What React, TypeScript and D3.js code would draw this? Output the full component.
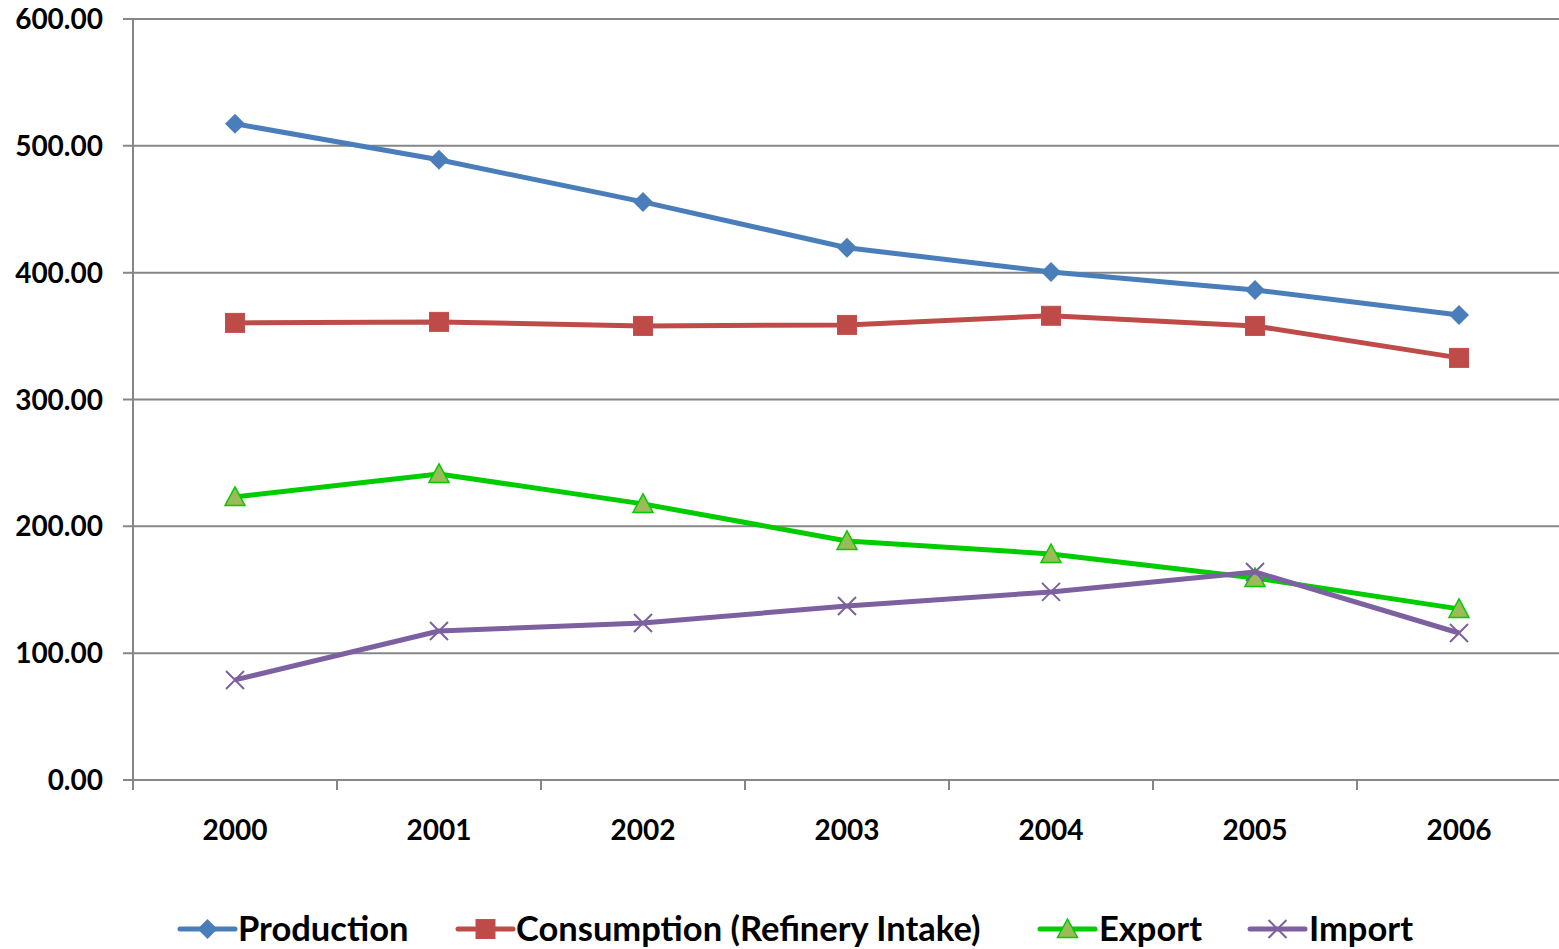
import React from "react";
import * as d3 from "d3";

const years = ["2000", "2001", "2002", "2003", "2004", "2005", "2006"];
const production = [517.4, 489.0, 455.8, 419.6, 400.6, 386.4, 366.7];
const consumption = [360.4, 361.2, 358.0, 358.8, 366.0, 358.0, 332.8];
const exportVals = [223.2, 241.3, 217.7, 188.5, 178.2, 159.3, 134.9];
const importVals = [78.9, 117.5, 123.8, 137.2, 148.3, 164.0, 115.9];
const yTicks = [0, 100, 200, 300, 400, 500, 600];

type Series = { name: string; values: number[]; color: string; marker: string; fill: string; stroke: string };

const series: Series[] = [
  { name: "Production", values: production, color: "#4a7ebb", marker: "diamond", fill: "#4a7ebb", stroke: "#4a7ebb" },
  { name: "Consumption (Refinery Intake)", values: consumption, color: "#be4b48", marker: "square", fill: "#be4b48", stroke: "#be4b48" },
  { name: "Export", values: exportVals, color: "#00cc00", marker: "triangle", fill: "#9bbb59", stroke: "#00cc00" },
  { name: "Import", values: importVals, color: "#7d60a0", marker: "x", fill: "none", stroke: "#7d60a0" },
];

const W = 1559, H = 949;
const left = 133, right = 1561, top = 19, bottom = 780;
const font = "Lato, 'Open Sans', sans-serif";

function Marker({ type, x, y, s }: { type: string; x: number; y: number; s: Series }) {
  if (type === "diamond") {
    const r = 10;
    return <path d={`M${x},${y - r}L${x + r},${y}L${x},${y + r}L${x - r},${y}Z`} fill={s.fill} />;
  }
  if (type === "square") {
    const r = 9.5;
    return <rect x={x - r} y={y - r} width={2 * r} height={2 * r} fill={s.fill} stroke="#c0504d" strokeWidth={1} />;
  }
  if (type === "triangle") {
    const r = 10;
    return <path d={`M${x},${y - r}L${x + r},${y + r * 0.85}L${x - r},${y + r * 0.85}Z`} fill={s.fill} stroke={s.stroke} strokeWidth={1.5} />;
  }
  const r = 9;
  return <path d={`M${x - r},${y - r}L${x + r},${y + r}M${x - r},${y + r}L${x + r},${y - r}`} stroke={s.stroke} strokeWidth={2} fill="none" />;
}

export default function App() {
  const x = d3.scaleBand<string>().domain(years).range([left, right]);
  const y = d3.scaleLinear().domain([0, 600]).range([bottom, top]);
  const cx = (d: string) => (x(d) as number) + x.bandwidth() / 2;
  const line = d3.line<number>().x((_, i) => cx(years[i])).y((v) => y(v));

  const legendItems = [
    { s: series[0], lx: 180, tx: 238 },
    { s: series[1], lx: 458, tx: 516 },
    { s: series[2], lx: 1040, tx: 1099 },
    { s: series[3], lx: 1250, tx: 1309 },
  ];
  const ly = 929;
  const boundaries = years.map((d) => x(d) as number);

  return (
    <svg width={W} height={H} style={{ position: "absolute", left: 0, top: 0, background: "#fff" }}>
      {yTicks.map((t) => (
        <g key={t}>
          <line x1={left - 10} x2={W} y1={y(t)} y2={y(t)} stroke="#868686" strokeWidth={2} />
          <text x={103} y={y(t)} dy="0.36em" textAnchor="end" fontFamily={font} fontWeight="bold" fontSize={28} fill="#000">
            {t.toFixed(2)}
          </text>
        </g>
      ))}
      <line x1={left} x2={left} y1={top} y2={bottom + 10} stroke="#868686" strokeWidth={2} />
      {boundaries.map((b, i) => (
        <line key={i} x1={b} x2={b} y1={bottom} y2={bottom + 10} stroke="#868686" strokeWidth={2} />
      ))}
      {years.map((d) => (
        <text key={d} x={cx(d)} y={830} dy="0.36em" textAnchor="middle" fontFamily={font} fontWeight="bold" fontSize={28} fill="#000">
          {d}
        </text>
      ))}
      {series.map((s) => (
        <g key={s.name}>
          <path d={line(s.values) || ""} fill="none" stroke={s.color} strokeWidth={5} strokeLinejoin="round" />
          {s.values.map((v, i) => (
            <Marker key={i} type={s.marker} x={cx(years[i])} y={y(v)} s={s} />
          ))}
        </g>
      ))}
      {legendItems.map(({ s, lx, tx }) => (
        <g key={s.name}>
          <line x1={lx} x2={lx + 55} y1={ly} y2={ly} stroke={s.color} strokeWidth={5} strokeLinecap="round" />
          <Marker type={s.marker} x={lx + 27.5} y={ly} s={s} />
          <text x={tx} y={ly} dy="0.36em" fontFamily={font} fontWeight="bold" fontSize={34.5} fill="#000">
            {s.name}
          </text>
        </g>
      ))}
    </svg>
  );
}
